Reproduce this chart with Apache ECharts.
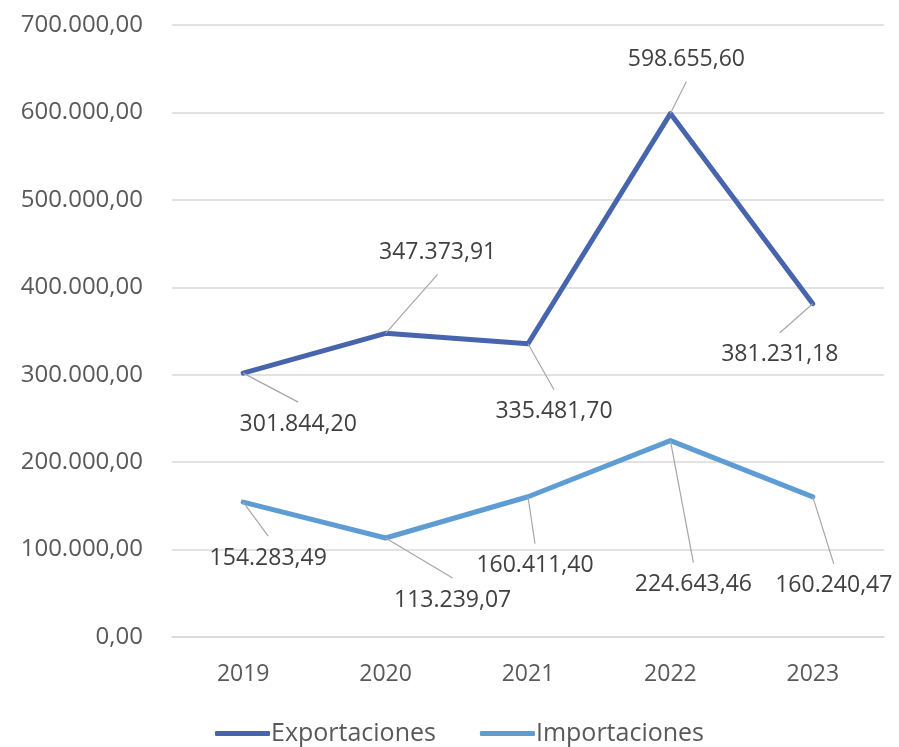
<!DOCTYPE html>
<html>
<head>
<meta charset="utf-8">
<script src="https://cdn.jsdelivr.net/npm/echarts@6/dist/echarts.min.js"></script>
<style>html,body{margin:0;padding:0;background:#fff}#c{width:899px;height:747px}</style>
</head>
<body>
<div id="c"></div>
<script>
const categories = ['2019', '2020', '2021', '2022', '2023'];
const exportaciones = [301844.20, 347373.91, 335481.70, 598655.60, 381231.18];
const importaciones = [154283.49, 113239.07, 160411.40, 224643.46, 160240.47];
const seriesNames = ['Exportaciones', 'Importaciones'];

// label centre offsets (px) relative to each point
const expOffsets = [[55, 51], [52, -81], [26, 68], [16, -54], [-33, 51]];
const impOffsets = [[25, 56], [67, 62], [7, 69], [23, 144], [21, 89]];

function fmt(v, dec) {
  const parts = v.toFixed(dec).split('.');
  const int = parts[0].replace(/\B(?=(\d{3})+(?!\d))/g, '.');
  return dec ? int + ',' + parts[1] : int;
}

const FONT = '"Open Sans", sans-serif';
const chart = echarts.init(document.getElementById('c'), null, {renderer: 'canvas'});

function lineSeries(name, data, color) {
  return {
    name: name,
    type: 'line',
    data: data,
    symbol: 'none',
    lineStyle: {color: color, width: 5, cap: 'round', join: 'round'},
    itemStyle: {color: color},
    emphasis: {disabled: true},
    animation: false,
    z: 2
  };
}

function labelSeries(data, offs) {
  return {
    type: 'custom',
    data: data.map((v, i) => [i, v]),
    silent: true,
    animation: false,
    z: 5,
    renderItem: function (params, api) {
      const pt = api.coord([api.value(0), api.value(1)]);
      const o = offs[params.dataIndex];
      const cx = pt[0] + o[0], cy = pt[1] + o[1];
      const ey = cy - Math.sign(o[1]) * 22;
      return {
        type: 'group',
        children: [
          {type: 'line', shape: {x1: pt[0], y1: pt[1], x2: cx, y2: ey},
           style: {stroke: '#A6A6A6', lineWidth: 1.2}},
          {type: 'text', x: cx, y: cy,
           style: {text: fmt(api.value(1), 2), fill: '#404040', font: '23px ' + FONT,
                   align: 'center', verticalAlign: 'middle'}}
        ]
      };
    }
  };
}

chart.setOption({
  animation: false,
  grid: {left: 172, right: 15, top: 25, bottom: 110, containLabel: false},
  legend: {
    data: seriesNames,
    bottom: -4,
    left: 210,
    icon: 'roundRect',
    itemWidth: 55,
    itemHeight: 5,
    itemGap: 44,
    textStyle: {color: '#595959', fontFamily: FONT, fontSize: 25, padding: [0, 0, 0, -4]}
  },
  xAxis: {
    type: 'category',
    data: categories,
    boundaryGap: true,
    axisLine: {show: true, lineStyle: {color: '#D9D9D9', width: 1.5}},
    axisTick: {show: false},
    axisLabel: {color: '#595959', fontFamily: FONT, fontSize: 23, margin: 26}
  },
  yAxis: {
    type: 'value',
    min: 0,
    max: 700000,
    interval: 100000,
    axisLine: {show: false},
    axisTick: {show: false},
    splitLine: {lineStyle: {color: '#D9D9D9', width: 1.5}},
    axisLabel: {color: '#595959', fontFamily: FONT, fontSize: 24, margin: 29, formatter: v => fmt(v, 2)}
  },
  series: [
    lineSeries(seriesNames[0], exportaciones, '#4765AC'),
    lineSeries(seriesNames[1], importaciones, '#5E9CD4'),
    labelSeries(exportaciones, expOffsets),
    labelSeries(importaciones, impOffsets)
  ]
});
</script>
</body>
</html>
